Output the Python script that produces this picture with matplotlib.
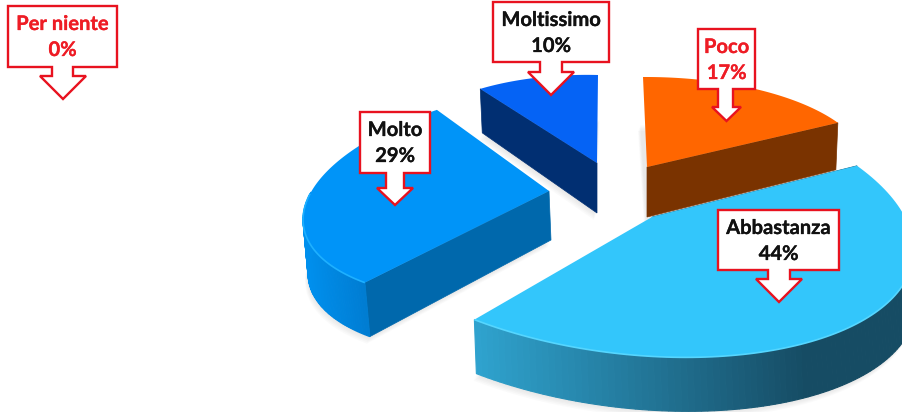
import numpy as np
import matplotlib
matplotlib.use("Agg")
import matplotlib.pyplot as plt
from matplotlib.patches import Polygon
from matplotlib.colors import to_rgb
import matplotlib.patheffects as pe

# data, clockwise from 12 o'clock
categories = ["Poco", "Abbastanza", "Molto", "Moltissimo", "Per niente"]
values = [17, 44, 29, 10, 0]
label_colors = ["#ee1c25", "#111111", "#111111", "#111111", "#ee1c25"]

# slice placement: centre, x axis and y axis of the tilted disc (pixels)
centre = {"Poco": (647, 167), "Abbastanza": (626, 222), "Molto": (549, 191), "Moltissimo": (597, 163)}
axis_u = {"Poco": (220, -1), "Abbastanza": (285, 10), "Molto": (243, -12), "Moltissimo": (200, 5)}
axis_v = {"Poco": (-4, -90), "Abbastanza": (-39, -135), "Molto": (38, -109), "Moltissimo": (1, -88)}
# the inner corner of the top face, the big slice is pulled out of true by the perspective
corner = {"Poco": (647, 167), "Abbastanza": (652, 217), "Molto": (549, 191), "Moltissimo": (597, 163)}
depth_in = {"Poco": (0, 50), "Abbastanza": (2, 50), "Molto": (2, 49), "Moltissimo": (0, 50)}
depth_out = {"Poco": (-2, 47), "Abbastanza": (2, 54), "Molto": (5, 54), "Moltissimo": (2, 44)}
# which cut face can be seen: 0 the start of the slice, -1 its end
cut_face = {"Poco": -1, "Abbastanza": 0, "Molto": 0, "Moltissimo": 0}

top_col = {"Poco": "#ff6600", "Abbastanza": "#33c6fb", "Molto": "#0094f8", "Moltissimo": "#0563f5"}
side_col = {"Poco": "#7a3300", "Abbastanza": "#1f6f8f", "Molto": "#0068ac", "Moltissimo": "#012f72"}
rim_left = {"Poco": "#7a3300", "Abbastanza": "#2fa3cf", "Molto": "#0090ee", "Moltissimo": "#012f72"}
rim_right = {"Poco": "#7a3300", "Abbastanza": "#164c64", "Molto": "#0070c0", "Moltissimo": "#012f72"}
bevel_col = {"Poco": "#ff7a20", "Abbastanza": "#55d6ff", "Molto": "#1eb0ff", "Moltissimo": "#0563f5"}

# callouts: box left, right, top, bottom, neck left, right, head y, head left, right, tip y
callouts = {
    "Per niente": (8, 117, 6, 67, 52, 73, 76, 40, 86, 99),
    "Moltissimo": (493, 609, 2, 62, 540, 562, 72, 528, 574, 95),
    "Poco": (698, 755, 29, 89, 718, 733, 107, 712, 741, 121),
    "Molto": (360, 430, 112, 173, 386, 404, 188, 377, 413, 205),
    "Abbastanza": (718, 839, 210, 270, 768, 790, 279, 756, 802, 302),
}

fig = plt.figure(figsize=(9.03, 4.12), dpi=100)
ax = fig.add_axes([0, 0, 1, 1])
ax.set_xlim(0, 903)
ax.set_ylim(412, 0)
ax.axis("off")

# turn the values into start / end angles
ends = np.cumsum(values) / sum(values) * 2 * np.pi
starts = ends - np.array(values) / sum(values) * 2 * np.pi
angle = dict(zip(categories, zip(starts, ends)))
order = ["Moltissimo", "Molto", "Poco", "Abbastanza"]


def rim_points(name, n=120):
    t = np.linspace(angle[name][0], angle[name][1], n)
    c, u, v = np.array(centre[name]), np.array(axis_u[name]), np.array(axis_v[name])
    return c + np.outer(np.sin(t), u) + np.outer(np.cos(t), v), np.cos(t)


for name in order:
    rim, _ = rim_points(name)
    outline = np.vstack([rim + depth_out[name], np.array(corner[name]) + depth_in[name]])
    # soft shadow under the block
    for k in range(1, 6):
        ax.add_patch(Polygon(outline + (-k * 0.6, k * 1.4), fc="#808080", ec="none", alpha=0.035, zorder=1))

for i, name in enumerate(order):
    rim, cos_t = rim_points(name)
    a = np.array(corner[name])
    low_a = a + depth_in[name]
    low_rim = rim + depth_out[name]
    z = 2 + i

    # the cut face turned to the viewer
    e = cut_face[name]
    ax.add_patch(Polygon([a, rim[e], low_rim[e], low_a], fc=side_col[name], ec=side_col[name], lw=0.5, zorder=z))

    # outer wall, only the part facing us, colour running from left to right
    front = cos_t < 0.1
    x0, x1 = rim[:, 0].min(), rim[:, 0].max()
    c0, c1 = np.array(to_rgb(rim_left[name])), np.array(to_rgb(rim_right[name]))
    for j in range(len(rim) - 1):
        if not front[j]:
            continue
        f = ((rim[j, 0] + rim[j + 1, 0]) / 2 - x0) / (x1 - x0)
        col = c0 + (c1 - c0) * min(f / 0.75, 1)
        ax.add_patch(Polygon([rim[j], rim[j + 1], low_rim[j + 1], low_rim[j]], fc=col, ec=col, lw=0.8, zorder=z))

    # top face and the light edge along the front
    ax.add_patch(Polygon(np.vstack([a, rim]), fc=top_col[name], ec="none", zorder=z))
    if front.any():
        ax.plot(rim[front, 0], rim[front, 1], color=bevel_col[name], lw=1.2, zorder=z, solid_capstyle="butt")

for name, val, col in zip(categories, values, label_colors):
    l, r, t, b, nl, nr, hy, hl, hr, tip = callouts[name]
    mid = (hl + hr) / 2
    pts = [(l, t), (r, t), (r, b), (nr, b), (nr, hy), (hr, hy), (mid, tip), (hl, hy), (nl, hy), (nl, b), (l, b)]
    ax.add_patch(Polygon(pts, fc="white", ec="#e8121f", lw=1.7, joinstyle="miter", zorder=10))
    cx = (l + r) / 2
    for txt, dy in [(name, 18), (str(val) + "%", 44)]:
        ax.text(cx, t + dy, txt, color=col, ha="center", va="center", fontsize=14.5, fontweight="bold",
                family="Lato", zorder=11, path_effects=[pe.withStroke(linewidth=0.2, foreground=col)])

fig.savefig("out.png", dpi=100, facecolor="white")
